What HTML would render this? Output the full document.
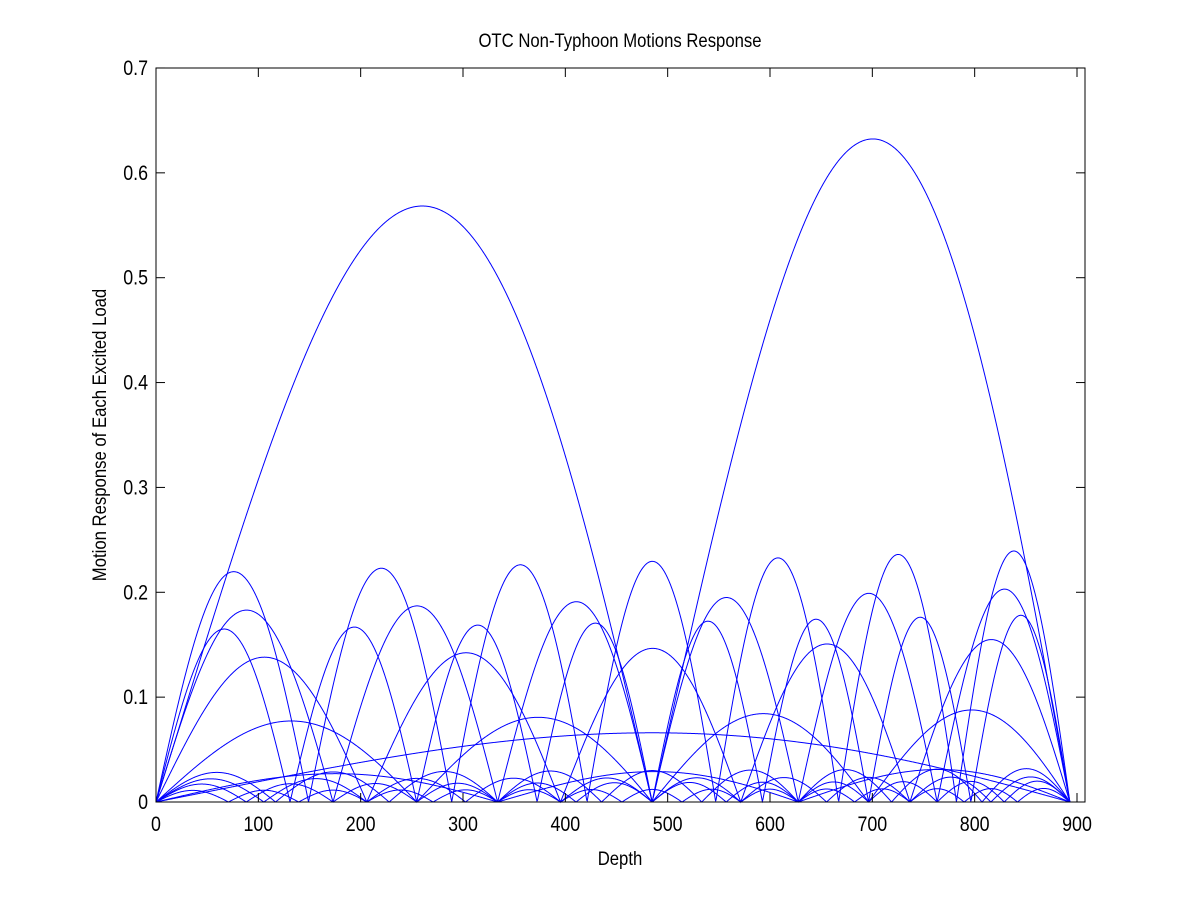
<!DOCTYPE html>
<html><head><meta charset="utf-8"><style>
body{margin:0;background:#fff;}
svg text{font-family:"Liberation Sans",sans-serif;font-size:19px;fill:#000;}
svg #labels text{font-size:21px;}
</style></head><body>
<svg id="s" width="1200" height="901" xmlns="http://www.w3.org/2000/svg">
<rect x="0" y="0" width="1200" height="901" fill="#fff"/>
<g id="curves" fill="none" stroke="#0000ff" stroke-width="1"></g>
<rect x="156" y="68" width="929" height="734" fill="none" stroke="#000" stroke-width="1"/>
<g id="ticks" stroke="#000" stroke-width="1"></g>
<g id="labels"></g>
<text x="620" y="47" text-anchor="middle" transform="translate(620 47) scale(0.88 1) translate(-620 -47)">OTC Non-Typhoon Motions Response</text>
<text x="620" y="865" text-anchor="middle" transform="translate(620 865) scale(0.88 1) translate(-620 -865)">Depth</text>
<text x="0" y="0" text-anchor="middle" transform="translate(106 435) rotate(-90) scale(0.88 1)">Motion Response of Each Excited Load</text>
</svg>
<script>
var X0=156,XS=(1077-156)/900,Y0=802,YS=104.86/0.1,L=893,a=0.827;
function px(x){return X0+x*XS;} function py(y){return Y0-y*YS;}
function warp(x){var t=x/L;return a*t+(1-a)*t*t;}
var modes=[[2,0.536,0.664],[1,0.066,0.066],[4,0.0755,0.0895],[5,0.136,0.157],[6,0.181,0.205],[7,0.218,0.241],[8,0.164,0.179],[3,0.026,0.032],[9,0.028,0.032],[12,0.017,0.02],[15,0.011,0.013],[10,0.022,0.024]];
var g=document.getElementById('curves'),h='';
modes.forEach(function(m){var d='';for(var i=0;i<=1780;i++){var x=i*L/1780,u=warp(x),A=m[1]+(m[2]-m[1])*u;var y=A*Math.abs(Math.sin(m[0]*Math.PI*u));d+=(i?'L':'M')+px(x).toFixed(2)+' '+py(y).toFixed(2);}h+='<path d="'+d+'"/>';});
g.innerHTML=h;
var t='',l='';
for(var k=0;k<=9;k++){var x=px(k*100);t+='<line x1="'+x+'" y1="802" x2="'+x+'" y2="793"/><line x1="'+x+'" y1="68" x2="'+x+'" y2="77"/>';l+='<text x="'+x+'" y="831" text-anchor="middle" transform="translate('+x+' 831) scale(0.85 1) translate('+(-x)+' -831)">'+(k*100)+'</text>';}
for(var k=0;k<=7;k++){var y=py(k*0.1);t+='<line x1="156" y1="'+y+'" x2="165" y2="'+y+'"/><line x1="1085" y1="'+y+'" x2="1076" y2="'+y+'"/>';l+='<text x="148" y="'+(y+7)+'" text-anchor="end" transform="translate(148 '+y+') scale(0.85 1) translate(-148 '+(-y)+')">'+(k==0?'0':(k/10).toFixed(1))+'</text>';}
document.getElementById('ticks').innerHTML=t;document.getElementById('labels').innerHTML=l;
</script>
</body></html>
